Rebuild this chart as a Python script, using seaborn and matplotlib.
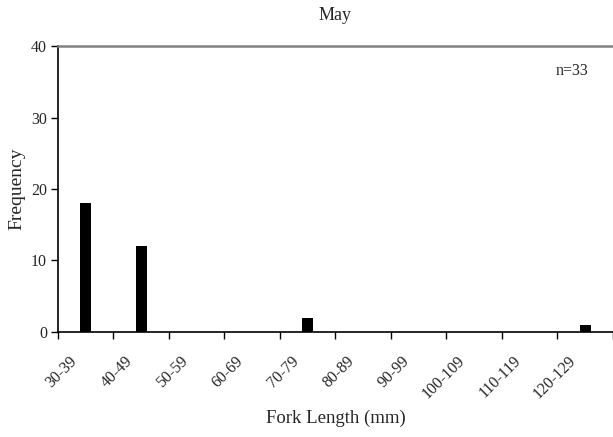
import matplotlib
matplotlib.use("Agg")
import matplotlib.pyplot as plt
import matplotlib.transforms as mtransforms
import seaborn as sns
import pandas as pd

# Fork length frequency, May sample
length_bins = ["30-39", "40-49", "50-59", "60-69", "70-79",
               "80-89", "90-99", "100-109", "110-119", "120-129"]
frequency = [18, 12, 0, 0, 2, 0, 0, 0, 0, 1]
y_ticks = [0, 10, 20, 30, 40]
sample_label = "n=33"

sns.set_theme(style="white")
plt.rcParams["font.family"] = ["Liberation Serif", "DejaVu Serif"]

df = pd.DataFrame({"bin": length_bins, "freq": frequency})

fig = plt.figure(figsize=(6.13, 4.37), dpi=100)
ax = fig.add_axes([0.0946, 0.2403, 0.9054, 0.6544])

sns.barplot(data=df, x="bin", y="freq", color="black", width=0.205,
            saturation=1, ax=ax, order=length_bins, linewidth=0)

n = len(length_bins)
ax.set_xlim(-0.5, n - 0.5)
ax.set_ylim(0, 40)
ax.set_yticks(y_ticks)
ax.set_yticklabels([str(v) for v in y_ticks], fontsize=11.5)

# Tick marks on category boundaries; rotated category labels drawn
# as text anchored slightly left of and below each category centre
ax.set_xticks(range(n))
ax.set_xticklabels([])
ax.tick_params(axis="x", which="major", length=0)
ax.set_xticks([i - 0.5 for i in range(n + 1)], minor=True)
ax.tick_params(axis="x", which="minor", length=5, width=1, color="black",
               direction="out", bottom=True)
ax.tick_params(axis="y", length=5, width=1, color="black",
               direction="out", left=True, pad=3)

base = mtransforms.blended_transform_factory(ax.transData, ax.transAxes)
offset = mtransforms.ScaledTranslation(-17 / 100, -21 / 100, fig.dpi_scale_trans)
for i, lab in enumerate(length_bins):
    ax.text(i, 0, lab, transform=base + offset, rotation=45,
            ha="right", va="top", rotation_mode="anchor", fontsize=11.5)

for side in ("left", "bottom"):
    ax.spines[side].set_color("black")
    ax.spines[side].set_linewidth(1.2)
ax.spines["top"].set_color("#808080")
ax.spines["top"].set_linewidth(1.8)
ax.spines["right"].set_visible(False)

ax.set_xlabel("Fork Length (mm)", fontsize=13.5, va="center")
ax.xaxis.set_label_coords(0.5, -0.3007)
ax.set_ylabel("Frequency", fontsize=14, labelpad=4)
ax.set_title("May", fontsize=13, pad=18.5)
ax.text(0.927, 0.912, sample_label, transform=ax.transAxes,
        ha="center", va="center", fontsize=11.5)

fig.savefig("out.png", dpi=100)
